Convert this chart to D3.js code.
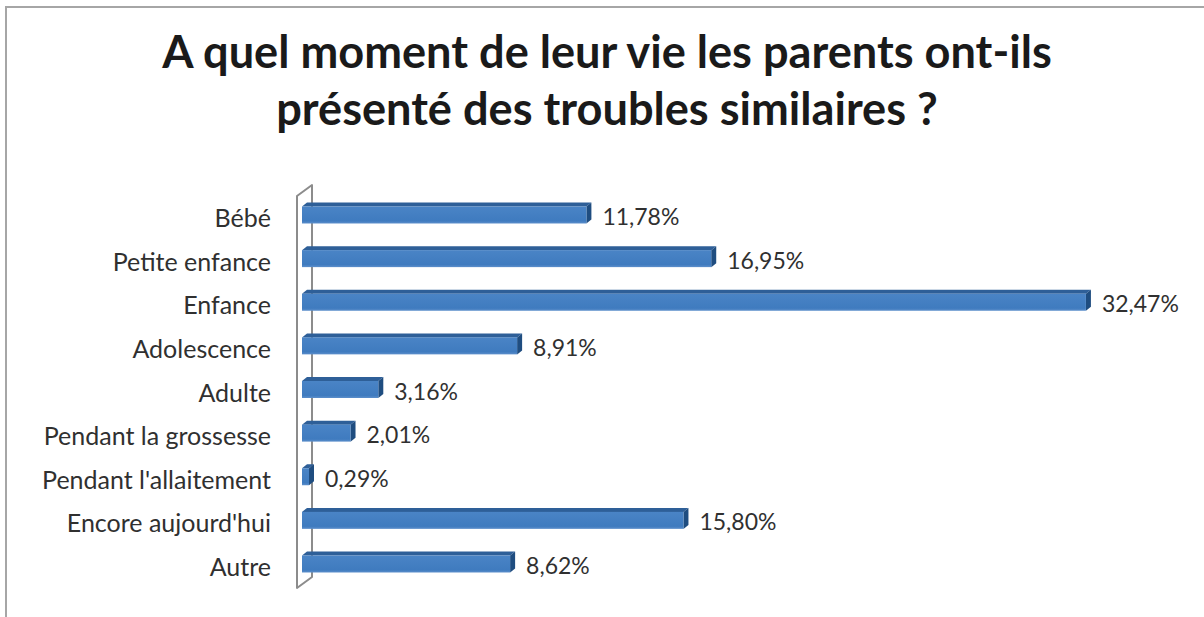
<!DOCTYPE html>
<html lang="fr">
<head>
<meta charset="UTF-8">
<title>Troubles similaires chez les parents</title>
<script src="https://cdn.jsdelivr.net/npm/d3@7"></script>
<style>
  body { margin: 0; background: #fff; }
  .cat { fill: #303030; font-family: Lato, "Open Sans", sans-serif; }
  .val { fill: #303030; font-family: Lato, "Open Sans", sans-serif; }
  .title { fill: #1a1a1a; font-family: Lato, "Open Sans", sans-serif; font-weight: bold; }
</style>
</head>
<body>
<svg id="chart" width="1204" height="617"></svg>
<script>
// données
const categories = ["Bébé", "Petite enfance", "Enfance", "Adolescence", "Adulte",
  "Pendant la grossesse", "Pendant l'allaitement", "Encore aujourd'hui", "Autre"];
const values = [11.78, 16.95, 32.47, 8.91, 3.16, 2.01, 0.29, 15.80, 8.62];
const titleLines = ["A quel moment de leur vie les parents ont-ils",
  "présenté des troubles similaires ?"];

const svg = d3.select("#chart");

// cadre gris (haut + gauche)
svg.append("path")
  .attr("d", "M6,617 V7 H1204")
  .attr("fill", "none")
  .attr("stroke", "#a6a6a6")
  .attr("stroke-width", 2);

// ajuste la taille de police pour obtenir une largeur donnée
function fit(sel, targetW, start) {
  sel.attr("font-size", start);
  const w = sel.node().getComputedTextLength();
  sel.attr("font-size", start * targetW / w);
}

// titre
const t1 = svg.append("text").attr("class", "title")
  .attr("x", 607).attr("y", 68).attr("text-anchor", "middle").text(titleLines[0]);
fit(t1, 890, 40);
svg.append("text").attr("class", "title")
  .attr("x", 607).attr("y", 125).attr("text-anchor", "middle")
  .attr("font-size", t1.attr("font-size")).text(titleLines[1]);

const x = d3.scaleLinear().domain([0, 35]).range([302, 1147]);
const y = d3.scalePoint().domain(categories).range([215, 564]);

const barH = 17, dx = 5, dy = 4;

// paroi de l'axe (3D)
svg.append("path")
  .attr("d", "M297,588 V196 L312,185 V577 Z M297,588 L312,577")
  .attr("fill", "none")
  .attr("stroke", "#8c8c8c")
  .attr("stroke-width", 2)
  .attr("stroke-linejoin", "round");

const defs = svg.append("defs");
const grad = defs.append("linearGradient").attr("id", "front")
  .attr("x1", 0).attr("y1", 0).attr("x2", 0).attr("y2", 1);
grad.append("stop").attr("offset", "0%").attr("stop-color", "#4a84c6");
grad.append("stop").attr("offset", "85%").attr("stop-color", "#3f7bbf");
grad.append("stop").attr("offset", "100%").attr("stop-color", "#5d8fcb");

const rows = categories.map((c, i) => ({ cat: c, v: values[i] }));

const bar = svg.selectAll(".bar").data(rows).enter().append("g").attr("class", "bar");

// face du dessus
bar.append("path")
  .attr("d", d => {
    const x0 = x(0), x1 = x(d.v), yt = y(d.cat) - barH / 2;
    return `M${x0},${yt} L${x0 + dx},${yt - dy} L${x1 + dx},${yt - dy} L${x1},${yt} Z`;
  })
  .attr("fill", "#2e5f98");

// face latérale
bar.append("path")
  .attr("d", d => {
    const x1 = x(d.v), yt = y(d.cat) - barH / 2;
    return `M${x1},${yt} L${x1 + dx},${yt - dy} L${x1 + dx},${yt - dy + barH} L${x1},${yt + barH} Z`;
  })
  .attr("fill", "#1f4d80");

// face avant
bar.append("rect")
  .attr("x", x(0))
  .attr("y", d => y(d.cat) - barH / 2)
  .attr("width", d => x(d.v) - x(0))
  .attr("height", barH)
  .attr("fill", "url(#front)");

// étiquettes des catégories
const cats = svg.selectAll(".cat").data(rows).enter().append("text")
  .attr("class", "cat")
  .attr("x", 271)
  .attr("y", d => y(d.cat) + 12)
  .attr("text-anchor", "end")
  .text(d => d.cat);
fit(cats.filter(d => d.cat === "Pendant l'allaitement"), 229, 21);
cats.attr("font-size", cats.filter(d => d.cat === "Pendant l'allaitement").attr("font-size"));

// étiquettes des valeurs
const fmt = v => v.toFixed(2).replace(".", ",") + "%";
const vals = svg.selectAll(".val").data(rows).enter().append("text")
  .attr("class", "val")
  .attr("x", d => x(d.v) + 16)
  .attr("y", d => y(d.cat) + 10)
  .text(d => fmt(d.v));
fit(vals.filter((d, i) => i === 0), 77, 21);
vals.attr("font-size", vals.filter((d, i) => i === 0).attr("font-size"));
</script>
</body>
</html>
